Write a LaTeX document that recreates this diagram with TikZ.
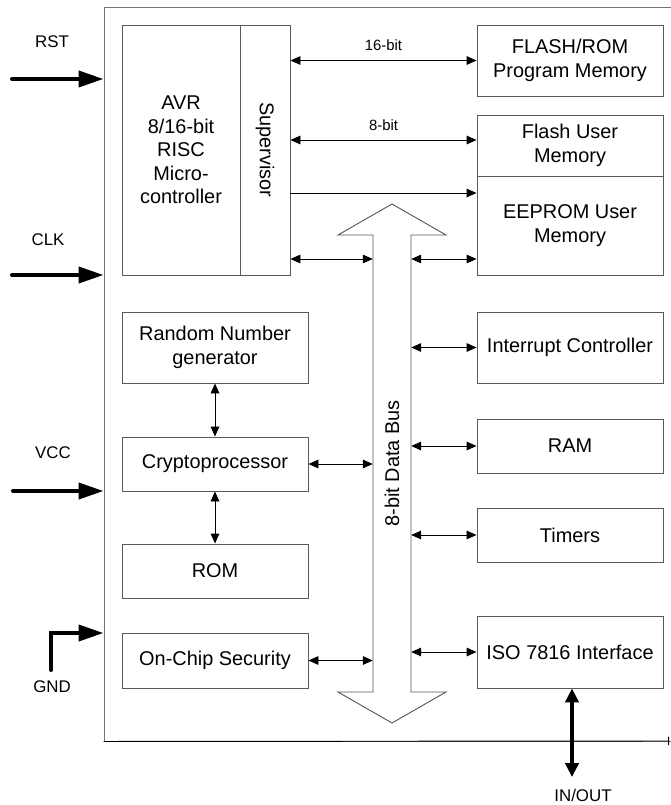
\documentclass[tikz,border=0pt]{standalone}
\usepackage{fontspec}
\setmainfont{Liberation Sans}
\usetikzlibrary{arrows.meta,positioning}

\begin{document}
\begin{tikzpicture}[
    x=0.3mm, y=-0.3mm,
    every node/.style={font=\fontsize{17}{20}\selectfont},
    block/.style={
      draw=black!65, line width=0.8pt,
      minimum width=55.8mm, align=center, inner sep=2pt
    },
    pinlabel/.style={font=\fontsize{14.4}{17}\selectfont},
    widthlabel/.style={font=\fontsize{12.7}{15}\selectfont},
    link/.style={{Triangle[length=3mm,width=2.6mm]}-{Triangle[length=3mm,width=2.6mm]}, line width=0.8pt},
    onelink/.style={-{Triangle[length=3mm,width=2.6mm]}, line width=0.8pt},
    pin/.style={-{Triangle[length=7.5mm,width=4.8mm]}, line width=1.2mm, line cap=round},
    iolink/.style={{Triangle[length=4.2mm,width=4mm]}-{Triangle[length=4.2mm,width=4mm]}, line width=1mm}
  ]
    \useasboundingbox (0,0) rectangle (670,805);

    % chip outline, right side runs off the page
    \node[draw=black!55, line width=0.8pt, minimum width=178.8mm,
          minimum height=220.2mm, inner sep=0pt] (chip) at (402,374) {};
    \draw[line width=0.8pt, -{Bar[width=2.5mm]}] (chip.south west) -- (669,741);

    % core
    \node[block, minimum width=35.4mm, minimum height=75mm] (avr) at (181,150)
      {AVR\\ 8/16-bit\\RISC\\Micro-\\controller};
    \node[block, minimum width=15mm, minimum height=75mm] (sup) at (265,150) {};
    \node[rotate=-90] (suplbl) at (sup) {Supervisor};

    % memories and peripherals
    \node[block, minimum height=21.3mm] (flash) at (570,60.5) {FLASH/ROM\\Program Memory};
    \node[block, minimum height=18.3mm] (fuser) at (570,145.5) {Flash User\\Memory};
    \node[block, minimum height=29.7mm] (eeprom) at (570,225.5) {EEPROM User\\Memory};
    \node[block, minimum height=21.3mm] (intr) at (570,347.5) {Interrupt Controller};
    \node[block, minimum height=16.2mm] (ram) at (570,446) {RAM};
    \node[block, minimum height=16.2mm] (timers) at (570,535) {Timers};
    \node[block, minimum height=21.6mm] (iso) at (570,652) {ISO 7816 Interface};

    \node[block, minimum height=21.3mm] (rng) at (215,347.5) {Random Number\\generator};
    \node[block, minimum height=16.2mm] (crypto) at (215,464) {Cryptoprocessor};
    \node[block, minimum height=16.2mm] (rom) at (215,571) {ROM};
    \node[block, minimum height=16.5mm] (ocs) at (215,660.5) {On-Chip Security};

    % data bus
    \draw[draw=black!65, line width=0.8pt, fill=white]
      (373,692) -- (373,235) -- (338,235) -- (392,204) -- (446,235) -- (411,235)
      -- (411,692) -- (446,692) -- (392,723) -- (338,692) -- cycle;
    \node[minimum width=11.4mm, minimum height=137.1mm, inner sep=0pt] (bus) at (392,463.5) {};
    \node[rotate=90] (buslbl) at (bus) {8-bit Data Bus};

    % connections
    \draw[link] (sup.east |- flash) -- node[widthlabel, above=1.5mm] (w16) {16-bit} (flash);
    \draw[link] (sup.east |- 0,140) -- node[widthlabel, above=1.5mm] (w8) {8-bit} (fuser.west |- 0,140);
    \draw[onelink] (sup.east |- 0,193) -- (eeprom.west |- 0,193);
    \draw[link] (sup.east |- 0,259) -- (bus.west |- 0,259);
    \draw[link] (bus.east |- 0,259) -- (eeprom.west |- 0,259);
    \draw[link] (bus.east |- intr) -- (intr);
    \draw[link] (bus.east |- ram) -- (ram);
    \draw[link] (bus.east |- timers) -- (timers);
    \draw[link] (bus.east |- iso) -- (iso);
    \draw[link] (rng) -- (crypto);
    \draw[link] (crypto) -- (rom);
    \draw[link] (crypto) -- (bus.west |- crypto);
    \draw[link] (ocs) -- (bus.west |- ocs);

    \coordinate (ioend) at (572,777);
    \draw[iolink] (iso.south -| ioend) -- (ioend);
    \node[pinlabel] (io) at (583,795) {IN/OUT};

    % pins
    \node[pinlabel] (rst) at (52,42) {RST};
    \coordinate (rstin) at (12,79);
    \draw[pin] (rstin) -- (chip.west |- rstin);

    \node[pinlabel] (clk) at (48,240) {CLK};
    \coordinate (clkin) at (12,275);
    \draw[pin] (clkin) -- (chip.west |- clkin);

    \node[pinlabel] (vcc) at (53,453) {VCC};
    \coordinate (vccin) at (13,491);
    \draw[pin] (vccin) -- (chip.west |- vccin);

    \node[pinlabel] (gnd) at (52,687) {GND};
    \coordinate (gndin) at (51,670);
    \draw[pin, line join=miter] (gndin) |- (chip.west |- 0,633);

\end{tikzpicture}
\end{document}
